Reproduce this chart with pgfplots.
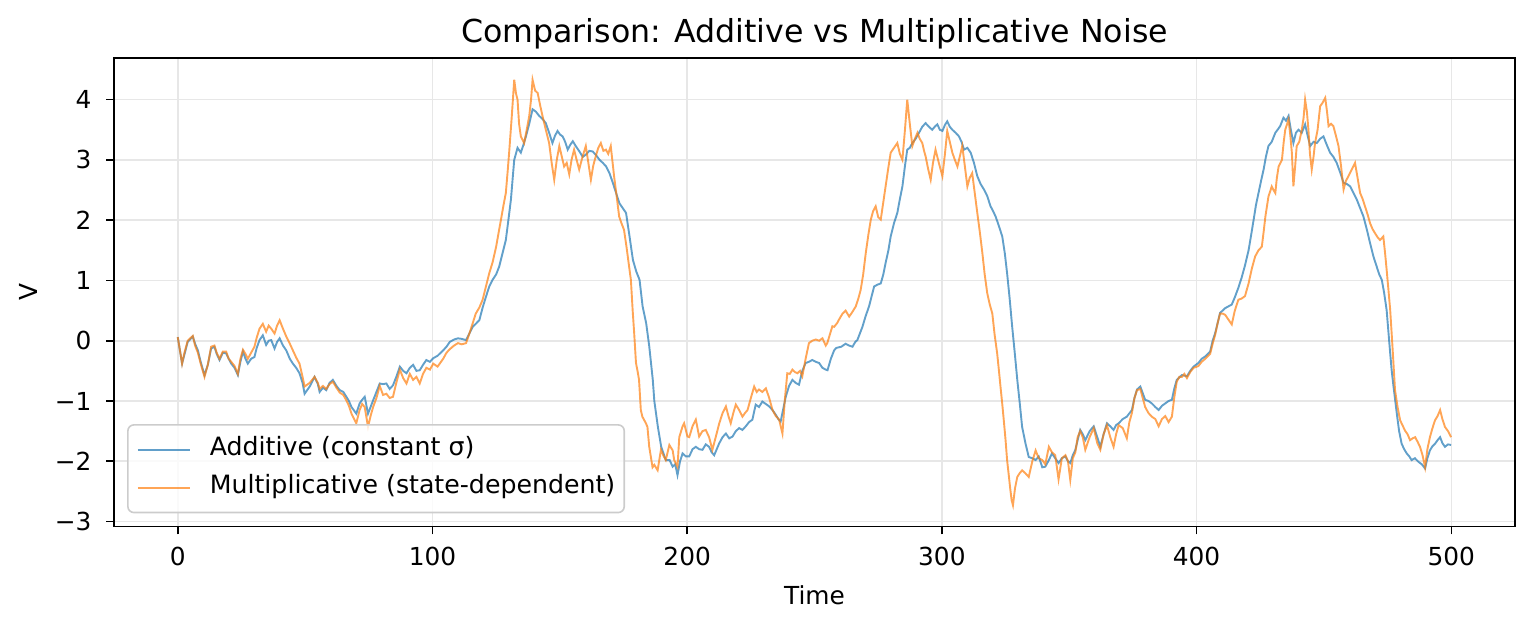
\documentclass[border=0pt]{standalone}
\usepackage{pgfplots}
\pgfplotsset{compat=1.18}
\usepackage{fontspec}
\setmainfont{DejaVu Sans}
\definecolor{tabblue}{HTML}{1F77B4}
\definecolor{taborange}{HTML}{FF7F0E}
\definecolor{gridc}{HTML}{E7E7E7}
\definecolor{legc}{HTML}{CCCCCC}

\pgfplotstableread{
t v
0 0.06
1.7 -0.38
2.5 -0.25
3.9 -0.02
5.9 0.07
6.8 -0.05
7.9 -0.16
9 -0.35
10.5 -0.57
11.8 -0.4
13.1 -0.13
14.4 -0.1
15.3 -0.22
16.4 -0.32
17.7 -0.2
19 -0.21
20 -0.3
21 -0.38
22.3 -0.45
23.6 -0.57
24.6 -0.35
25.6 -0.18
26.6 -0.3
27.5 -0.38
28.8 -0.3
30.1 -0.27
31 -0.12
32.1 0.01
33.4 0.09
34.7 -0.07
35.7 0.0
36.7 0.01
38 -0.13
39 -0.02
40 0.04
41.3 -0.08
42.6 -0.16
44 -0.3
45.2 -0.38
46.5 -0.45
47.8 -0.54
49 -0.7
49.8 -0.88
51.8 -0.76
53.7 -0.6
55 -0.72
55.7 -0.85
57 -0.78
58.3 -0.82
59.6 -0.7
60.9 -0.65
62.3 -0.75
63.6 -0.82
65 -0.85
66.2 -0.93
67.2 -1.0
68.2 -1.1
70.1 -1.21
71.4 -1.04
72.4 -0.98
73.4 -0.93
74.7 -1.21
75.7 -1.1
76.7 -0.99
78 -0.85
79.3 -0.71
80.6 -0.72
81.9 -0.71
83.2 -0.8
84.5 -0.74
85.8 -0.6
87.2 -0.43
88.5 -0.5
89.8 -0.54
91.1 -0.45
92.4 -0.4
93.7 -0.5
95 -0.49
96.3 -0.4
97.6 -0.32
99 -0.35
100.3 -0.29
102 -0.25
104.2 -0.16
105.5 -0.1
106.8 -0.02
108.5 0.02
110 0.04
111.5 0.03
113.2 0.01
114.5 0.12
115.8 0.23
117 0.28
118.4 0.34
119.7 0.55
121 0.73
122.3 0.9
123.6 1.01
125 1.1
126.2 1.23
127.5 1.45
128.8 1.67
129.8 2.0
130.8 2.34
131.5 2.7
132.1 3.0
133.4 3.2
134.7 3.12
135.7 3.25
136.7 3.39
138 3.6
139.3 3.84
140.6 3.8
141.9 3.73
143.2 3.68
144.5 3.61
145.8 3.45
147.1 3.28
148.1 3.4
149.1 3.48
150.1 3.42
151.1 3.39
152.1 3.3
153.1 3.17
154.1 3.25
155.1 3.31
156.4 3.22
157.7 3.14
159 3.05
160.3 3.09
161.6 3.15
162.9 3.14
164.2 3.08
165.6 3.0
166.9 2.95
168.2 2.89
169.5 2.78
170.8 2.62
172.1 2.45
173.4 2.28
174.7 2.2
176 2.12
177.3 1.75
178.7 1.34
180 1.15
181.3 1.01
182.5 0.57
183.9 0.29
185.1 -0.09
186.5 -0.65
187.1 -1.0
188.5 -1.43
189.8 -1.76
191.6 -1.98
193.1 -1.98
194.3 -2.09
195.3 -2.05
196.2 -2.23
197.2 -2.0
198.2 -1.87
199.5 -1.92
200.8 -1.92
202.1 -1.8
203.4 -1.76
204.7 -1.8
206 -1.81
207.3 -1.72
208.6 -1.76
209.6 -1.85
210.6 -1.9
211.6 -1.8
212.6 -1.7
213.9 -1.6
215.2 -1.54
216.5 -1.62
217.8 -1.59
219.1 -1.5
220.4 -1.45
221.7 -1.48
223 -1.42
224.3 -1.35
225.6 -1.31
226.9 -1.06
228.2 -1.1
229.5 -1.01
230.9 -1.05
232.2 -1.09
233.5 -1.15
234.8 -1.23
235.8 -1.3
236.7 -1.34
238.7 -0.93
240 -0.75
241.3 -0.65
242.6 -0.7
243.9 -0.73
245.2 -0.5
246.5 -0.37
247.8 -0.35
249.1 -0.32
250.5 -0.35
251.8 -0.37
253.1 -0.45
254.4 -0.48
255.1 -0.49
256.4 -0.3
257.7 -0.16
258.5 -0.12
260.5 -0.1
262.2 -0.05
263.5 -0.08
264.9 -0.1
266 -0.02
266.8 0.01
268.8 0.23
270 0.4
271.4 0.57
273.4 0.9
274.7 0.93
276 0.95
277 1.1
277.9 1.29
279 1.5
279.9 1.73
281.2 1.95
282.5 2.12
283.5 2.35
284.5 2.56
285.5 2.9
286.4 3.17
287.4 3.2
288.4 3.28
289.7 3.35
291 3.45
292.3 3.55
293.6 3.61
294.9 3.55
296.2 3.5
297.2 3.55
298.2 3.59
299.2 3.5
300.2 3.48
301.2 3.58
302.1 3.64
303.1 3.55
304.1 3.5
305.4 3.45
306.7 3.39
307.7 3.3
308.7 3.17
310 3.2
311.3 3.12
312.6 2.95
313.9 2.73
315.2 2.6
316.5 2.51
317.8 2.4
319.1 2.23
320.1 2.15
321.1 2.06
322.4 1.9
323.7 1.73
324.7 1.45
325.6 1.12
326.6 0.7
327.6 0.23
328.6 -0.2
329.6 -0.65
330.6 -1.05
331.5 -1.43
332.8 -1.7
334.1 -1.93
335.5 -1.95
336.8 -1.98
338 -1.92
339.4 -2.1
340.6 -2.09
342 -1.98
343.2 -1.87
344.5 -1.95
345.8 -2.03
347.1 -1.95
348.5 -1.92
349.5 -2.0
350.4 -2.03
351.4 -1.9
352.4 -1.81
353.3 -1.65
354.3 -1.48
355.3 -1.55
356.3 -1.65
358 -1.5
359.6 -1.42
361 -1.6
362.2 -1.76
363.5 -1.55
364.8 -1.37
366.1 -1.42
367.4 -1.48
368.4 -1.4
369.4 -1.37
371 -1.3
372.6 -1.26
374.6 -1.15
375.6 -0.95
376.6 -0.81
377.9 -0.76
379.8 -0.98
381.1 -1.0
382.4 -1.04
383.8 -1.1
385.1 -1.15
386.4 -1.08
387.7 -1.04
389 -1.0
390.3 -0.98
391.2 -0.8
392.2 -0.65
394.2 -0.57
396.2 -0.59
397.5 -0.5
398.8 -0.43
400.7 -0.37
402 -0.3
403.4 -0.26
405.3 -0.18
406.3 0.0
407.3 0.13
408.3 0.3
409.2 0.46
411.2 0.54
413.8 0.6
415 0.72
416.4 0.88
417.7 1.05
419 1.25
420.4 1.5
421.4 1.75
422.4 2.01
423.3 2.25
424.3 2.45
425.3 2.65
426.3 2.84
427.2 3.05
428.2 3.23
429.5 3.3
430.9 3.45
431.8 3.5
432.8 3.56
434.1 3.7
435.1 3.65
436.1 3.73
437 3.5
438 3.28
439 3.45
440 3.5
441.3 3.45
442.6 3.59
443.6 3.4
444.6 3.23
445.9 3.3
447.2 3.28
448.5 3.35
449.8 3.39
451.1 3.25
452.4 3.12
453.7 3.05
455 2.95
456.3 2.8
457.7 2.62
459 2.6
460.3 2.56
461.6 2.45
462.9 2.34
464.2 2.2
465.5 2.06
466.8 1.85
468.1 1.62
469.4 1.4
470.7 1.23
471.7 1.1
472.7 1.01
473.6 0.8
474.6 0.51
475.3 0.15
476 -0.21
476.6 -0.5
477.3 -0.76
478 -1.0
478.6 -1.21
479.5 -1.5
480.5 -1.71
481.5 -1.8
482.5 -1.87
483.5 -1.92
484.4 -1.98
485.7 -1.95
487.1 -2.01
488.4 -2.05
489.7 -2.12
490.6 -1.95
491.6 -1.82
492.6 -1.75
493.6 -1.71
494.6 -1.65
495.6 -1.6
496.5 -1.7
497.5 -1.76
498.7 -1.72
499.9 -1.73
}\additive

\pgfplotstableread{
t v
0 0.06
1.7 -0.38
2.5 -0.22
3.9 0.0
5.9 0.08
6.8 -0.08
7.9 -0.2
9 -0.38
10.5 -0.6
11.8 -0.4
13.1 -0.1
14.4 -0.08
15.3 -0.2
16.4 -0.3
17.7 -0.18
19 -0.18
20 -0.3
21 -0.35
22.3 -0.42
23.6 -0.55
24.6 -0.3
25.6 -0.15
26.6 -0.22
27.5 -0.3
28.8 -0.2
30.1 -0.1
31 0.05
32.1 0.2
33.4 0.28
34.7 0.15
35.7 0.25
36.7 0.2
38 0.12
39 0.25
40 0.34
41.3 0.2
42.6 0.07
44 -0.05
45.2 -0.16
46.5 -0.28
47.8 -0.38
49 -0.6
49.8 -0.76
51.8 -0.7
53.7 -0.6
55 -0.7
55.7 -0.8
57 -0.75
58.3 -0.8
59.6 -0.72
60.9 -0.68
62.3 -0.78
63.6 -0.86
65 -0.9
66.2 -0.99
67.2 -1.08
68.2 -1.21
70.1 -1.37
71.4 -1.15
72.4 -1.05
73.4 -1.1
74.7 -1.43
75.7 -1.25
76.7 -1.1
78 -0.95
79.3 -0.75
80.6 -0.9
81.9 -0.88
83.2 -0.95
84.5 -0.93
85.8 -0.7
87.2 -0.48
88.5 -0.62
89.8 -0.71
91.1 -0.55
92.4 -0.65
93.7 -0.6
95 -0.71
96.3 -0.55
97.6 -0.45
99 -0.48
100.3 -0.38
102 -0.43
104.2 -0.3
105.5 -0.2
106.8 -0.14
108.5 -0.08
110 -0.04
111.5 -0.06
113.2 -0.04
114.5 0.12
115.8 0.29
117 0.45
118.4 0.55
119.7 0.68
121 0.9
122.3 1.12
123.6 1.3
125 1.56
126 1.8
126.9 2.01
127.9 2.25
128.8 2.45
129.5 2.8
130.1 3.12
131.1 3.7
132.1 4.33
132.8 4.1
133.4 4.0
134 3.6
134.7 3.39
136 3.28
137 3.5
138 3.73
138.7 4.0
139.3 4.33
140.3 4.15
141.3 4.11
142.3 3.9
143.2 3.73
144.5 3.5
145.8 3.28
146.8 2.95
147.8 2.67
148.8 3.0
149.8 3.23
150.8 3.05
151.7 2.89
152.7 2.95
153.7 2.76
154.6 3.0
155.6 3.17
156.6 3.0
157.6 2.84
158.9 3.05
160.2 3.23
161.2 2.95
162.2 2.67
163.1 2.9
164.1 3.06
165.1 3.2
166.1 3.28
167.1 3.15
168.1 3.17
169 3.1
170 3.23
170.6 3.0
171.3 2.73
172.3 2.4
173.3 2.06
174.2 1.95
175.2 1.84
176.2 1.55
177.2 1.23
177.9 1.01
178.6 0.5
179.2 0.12
179.9 -0.37
180.5 -0.5
181.1 -0.65
181.8 -1.15
182.4 -1.26
183.8 -1.37
184.4 -1.43
185.1 -1.76
186.4 -2.1
187.1 -2.06
188.4 -2.15
189.7 -1.81
190.6 -1.9
191.6 -1.98
193 -1.73
194.3 -1.82
194.9 -1.98
196.2 -2.09
196.9 -1.6
198.2 -1.42
198.8 -1.37
200.1 -1.59
200.8 -1.6
202.1 -1.42
203.4 -1.31
204.7 -1.59
206 -1.5
207.3 -1.48
208.6 -1.6
209.9 -1.81
211.2 -1.6
212.6 -1.37
213.9 -1.2
215.2 -1.09
216.2 -1.25
217.1 -1.37
218.1 -1.2
219.1 -1.06
220.4 -1.15
221.7 -1.26
222.7 -1.2
223.7 -1.15
225 -0.95
226.3 -0.76
227.3 -0.85
228.2 -0.81
229.5 -0.85
230.9 -0.79
232.2 -0.95
233.5 -1.15
234.8 -1.25
236.1 -1.31
237.4 -1.54
238.3 -1.0
239.3 -0.54
240.3 -0.55
241.3 -0.48
242.3 -0.52
243.3 -0.54
244.3 -0.5
245.2 -0.59
246.5 -0.3
247.8 -0.04
249.1 0.0
250.5 0.02
251.8 0.0
253.1 0.04
254.4 -0.08
255 -0.04
256 0.1
257 0.24
257.7 0.23
259 0.3
259.6 0.35
261 0.45
262.2 0.5
263.6 0.4
264.9 0.48
266.2 0.57
267.2 0.7
268.1 0.84
269.1 1.1
270.1 1.45
271.1 1.75
272.1 2.01
273 2.15
274 2.23
275 2.05
276 2.01
277 2.3
277.9 2.56
278.9 2.85
279.9 3.12
281.2 3.2
282.5 3.28
283.5 3.1
284.5 3.0
285.5 3.5
286.4 4.0
287.4 3.6
288.4 3.23
289.4 3.35
290.4 3.45
291.3 3.35
292.3 3.28
293 3.15
293.6 3.06
294.6 2.85
295.6 2.67
296.5 2.95
297.5 3.17
298.8 2.95
300.2 2.73
301.2 3.1
302.1 3.48
303.1 3.3
304.1 3.12
305.1 3.0
306.1 2.89
307 3.05
308 3.23
309 2.9
310 2.56
310.9 2.7
311.9 2.78
312.9 2.45
313.9 2.12
314.9 1.8
315.9 1.45
316.8 1.1
317.8 0.79
318.8 0.6
319.8 0.45
320.7 0.1
321.7 -0.21
322.4 -0.5
323 -0.76
323.7 -1.05
324.3 -1.32
325 -1.65
325.6 -1.98
326.3 -2.25
326.9 -2.48
327.4 -2.65
327.9 -2.73
328.7 -2.45
329.6 -2.26
330.5 -2.2
331.5 -2.15
332.8 -2.2
334.1 -2.26
335.5 -2.0
336.8 -1.82
338 -1.95
339.4 -1.98
340.6 -2.05
342 -1.76
343.2 -1.85
344.5 -1.9
345.8 -2.3
347.1 -1.95
348.5 -1.9
349.5 -2.0
350.4 -2.31
351.4 -1.95
352.4 -1.85
353.3 -1.6
354.3 -1.5
355.3 -1.6
356.3 -1.81
358 -1.6
359.6 -1.45
361 -1.7
362.2 -1.81
363.5 -1.55
364.8 -1.4
366.1 -1.6
367.4 -1.76
368.4 -1.55
369.4 -1.4
371 -1.45
372.6 -1.62
373.6 -1.35
374.6 -1.2
375.6 -0.95
376.6 -0.82
377.9 -0.8
379.8 -1.1
381.1 -1.2
382.4 -1.26
383.8 -1.3
385.1 -1.42
386.4 -1.3
387.7 -1.25
389 -1.35
390.3 -1.26
391.2 -0.95
392.2 -0.68
393.2 -0.6
394.2 -0.6
395.2 -0.55
396.2 -0.62
397.5 -0.52
398.8 -0.45
400.7 -0.42
402 -0.35
403.4 -0.3
405.3 -0.22
406.3 -0.05
407.3 0.1
408.3 0.3
409.2 0.45
410.2 0.45
411.2 0.43
412.5 0.35
413.8 0.27
415 0.5
416.4 0.68
417.7 0.7
419 0.74
420.4 0.95
421.7 1.2
423 1.4
424.3 1.5
425.6 1.56
426.3 1.8
427 2.06
428.2 2.39
429.5 2.56
430.2 2.5
430.9 2.45
431.5 2.7
432.2 2.89
433.5 3.0
434.2 3.3
434.8 3.5
436.1 3.67
436.8 3.4
437.4 3.12
438 2.56
438.7 2.9
439.3 3.23
440.3 3.3
441.3 3.5
442 3.7
442.6 4.0
443.3 3.8
443.9 3.5
444.5 3.1
445.2 2.84
445.9 3.05
446.5 3.28
447.5 3.5
448.5 3.89
449.5 3.95
450.5 4.03
451.2 3.8
451.8 3.56
452.8 3.6
453.7 3.56
454.7 3.4
455.7 3.23
456.7 2.9
457.7 2.51
458.6 2.65
459.6 2.73
461 2.85
462.2 2.95
463.2 2.7
464.2 2.45
465.2 2.35
466.1 2.23
467.1 2.1
468.1 1.95
469.1 1.85
470.1 1.78
471 1.72
472 1.67
473.3 1.73
474 1.45
474.6 1.18
475.3 0.85
476 0.51
476.9 -0.1
477.9 -0.82
478.9 -1.1
479.9 -1.32
480.8 -1.4
481.8 -1.49
482.8 -1.55
483.8 -1.65
484.8 -1.62
485.8 -1.6
486.8 -1.68
487.7 -1.76
488.7 -1.9
489.7 -2.1
490.6 -1.8
491.6 -1.6
492.6 -1.45
493.6 -1.32
494.6 -1.25
495.6 -1.15
496.5 -1.3
497.5 -1.43
498.7 -1.5
499.9 -1.6
}\multiplicative

\begin{document}
\begin{tikzpicture}
\begin{axis}[
  scale only axis, width=700pt, height=234pt,
  xmin=-25, xmax=525, ymin=-3.08, ymax=4.69,
  xtick={0,100,200,300,400,500},
  xticklabels={0,100,200,300,400,500},
  ytick={-3,-2,-1,0,1,2,3,4},
  yticklabels={−3,−2,−1,0,1,2,3,4},
  tick pos=left,
  tick align=outside, major tick length=4pt,
  tick style={black, line width=0.8pt},
  axis line style={line width=0.8pt},
  grid=major, major grid style={gridc, line width=0.8pt},
  ticklabel style={font=\fontsize{12.4}{14}\selectfont},
  xticklabel style={yshift=-2.7pt},
  yticklabel style={xshift=-3.8pt},
  xlabel={Time}, ylabel={V},
  every axis x label/.style={at={(axis description cs:0.5,0)}, yshift=-34.5pt, anchor=center, font=\fontsize{12.4}{14}\selectfont},
  every axis y label/.style={at={(axis description cs:0,0.5)}, xshift=-43pt, rotate=90, anchor=center, font=\fontsize{12.4}{14}\selectfont},
  title={Comparison: Additive vs Multiplicative Noise},
  every axis title/.style={at={(axis description cs:0.5,1)}, anchor=base, yshift=8pt, font=\fontsize{15.8}{18}\selectfont},
  legend cell align=left,
  legend image code/.code={\draw[#1] (0pt,0pt) -- (26pt,0pt);},
  legend style={at={(axis description cs:0,0)}, anchor=south west, xshift=6.5pt, yshift=6.5pt,
    draw=legc, line width=0.8pt, rounded corners=3pt, fill=white, fill opacity=0.8, text opacity=1,
    font=\fontsize{12.6}{15}\selectfont, inner xsep=4.5pt, inner ysep=6pt,
    row sep=6.2pt, column sep=9.5pt,
    nodes={inner sep=0pt, text height=9.5pt, text depth=3.3pt}},
]
\addplot[tabblue, opacity=0.7, line width=0.95pt] table[x=t,y=v] {\additive};
\addlegendentry{Additive (constant σ)}
\addplot[taborange, opacity=0.7, line width=0.95pt] table[x=t,y=v] {\multiplicative};
\addlegendentry{Multiplicative (state-dependent)}
\end{axis}
\path ([shift={(-57pt,-50.7pt)}]current axis.south west) rectangle ([shift={(10pt,29pt)}]current axis.north east);
\end{tikzpicture}
\end{document}
